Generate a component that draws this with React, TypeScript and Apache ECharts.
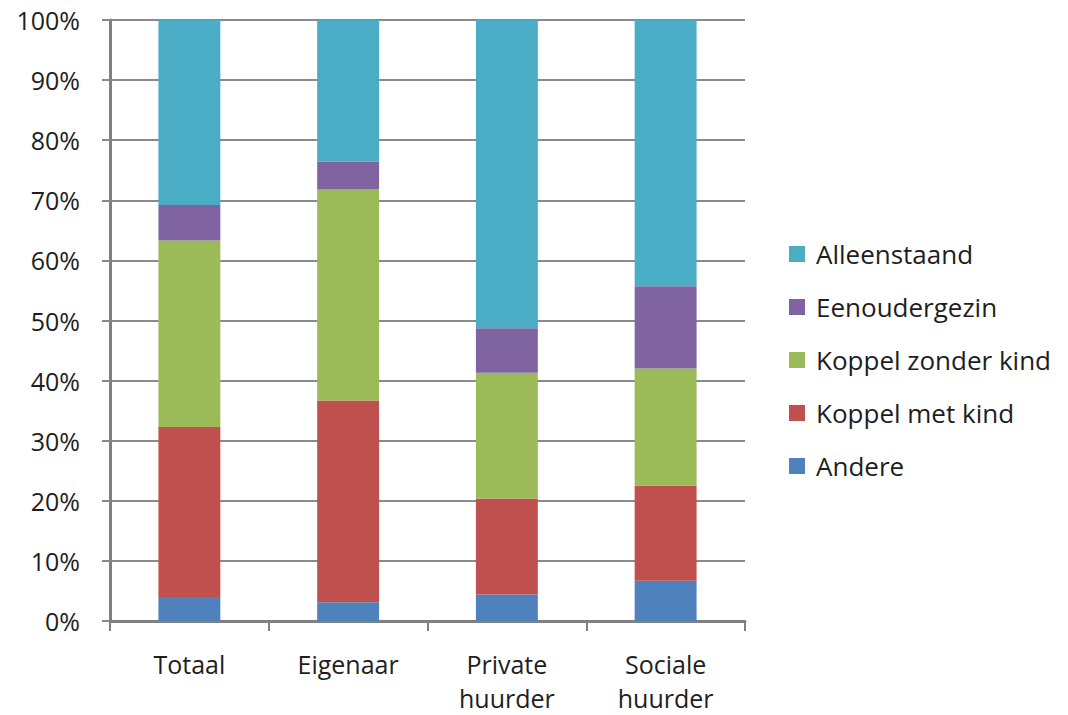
import React, { useEffect, useRef } from "react";
import * as echarts from "echarts";

const categories = ["Totaal", "Eigenaar", "Private\nhuurder", "Sociale\nhuurder"];
const seriesNames = ["Andere", "Koppel met kind", "Koppel zonder kind", "Eenoudergezin", "Alleenstaand"];
const andere = [4.0, 3.1, 4.4, 6.7];
const koppelMetKind = [28.3, 33.6, 16.0, 15.8];
const koppelZonderKind = [31.0, 35.1, 20.9, 19.5];
const eenoudergezin = [5.9, 4.6, 7.4, 13.7];
const alleenstaand = [30.8, 23.6, 51.3, 44.3];
const colors = ["#4F81BD", "#C0504D", "#9BBB59", "#8064A2", "#4BACC6"];
const yTicks = [0, 10, 20, 30, 40, 50, 60, 70, 80, 90, 100];

export default function App() {
  const ref = useRef<HTMLDivElement>(null);
  useEffect(() => {
    if (!ref.current) return;
    const chart = echarts.init(ref.current, null, { renderer: "svg" });
    const values = [andere, koppelMetKind, koppelZonderKind, eenoudergezin, alleenstaand];
    const font = "'Open Sans', 'Noto Sans', sans-serif";
    chart.setOption({
      animation: false,
      backgroundColor: "#ffffff",
      grid: { left: 110, right: 323, top: 20, bottom: 94, containLabel: false, outerBoundsMode: "none" },
      legend: {
        orient: "vertical",
        left: 784,
        top: 234,
        itemWidth: 16,
        itemHeight: 16,
        itemGap: 23,
        icon: "rect",
        data: seriesNames.slice().reverse(),
        textStyle: { fontFamily: font, fontSize: 26, color: "#1e1e1e", lineHeight: 30, padding: [0, 0, 0, 6] },
      },
      xAxis: {
        type: "category",
        data: categories,
        axisLine: { lineStyle: { color: "#808080", width: 3 } },
        axisTick: { show: true, length: 10, lineStyle: { color: "#808080", width: 2 } },
        axisLabel: { fontFamily: font, fontSize: 25, color: "#1e1e1e", margin: 26, lineHeight: 34 },
      },
      yAxis: {
        type: "value",
        min: 0,
        max: 100,
        interval: 10,
        axisLine: { show: true, lineStyle: { color: "#808080", width: 3 } },
        axisTick: { show: true, length: 8, lineStyle: { color: "#8a8a8a", width: 2 } },
        splitLine: { lineStyle: { color: "#8a8a8a", width: 2 } },
        axisLabel: {
          fontFamily: font,
          fontSize: 25,
          color: "#1e1e1e",
          margin: 30,
          formatter: (v: number) => (yTicks.includes(v) ? v + "%" : ""),
        },
      },
      series: seriesNames.map((name, i) => ({
        name,
        type: "bar",
        stack: "total",
        barWidth: "39%",
        data: values[i],
        itemStyle: { color: colors[i] },
      })),
    });
    return () => chart.dispose();
  }, []);
  return <div ref={ref} style={{ position: "fixed", left: 0, top: 0, width: 1068, height: 715, background: "#fff" }} />;
}
